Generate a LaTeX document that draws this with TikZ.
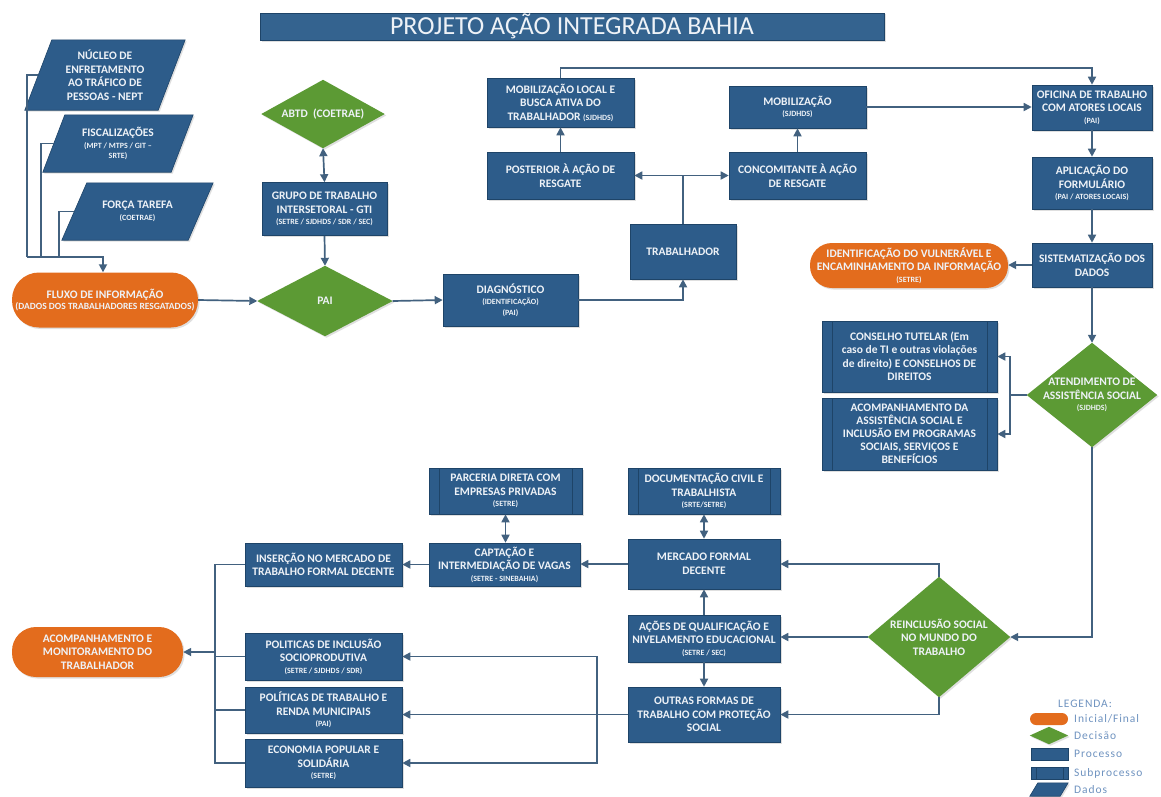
\documentclass[tikz,border=0pt]{standalone}
\usepackage{fontspec}
\setmainfont{Carlito}
\newfontfamily\legfont[LetterSpace=8]{Carlito}
\usetikzlibrary{arrows.meta,calc,shadows}
\pgfdeclarelayer{back}
\pgfdeclarelayer{bg}
\pgfsetlayers{back,bg,main}
\definecolor{procblue}{HTML}{2D5C8A}
\definecolor{procedge}{HTML}{1E4468}
\definecolor{titleblue}{HTML}{34638F}
\definecolor{orng}{HTML}{E36C1D}
\definecolor{grn}{HTML}{5C9A34}
\definecolor{lnc}{HTML}{42617F}
\definecolor{txtw}{HTML}{EEF2F7}
\definecolor{legc}{HTML}{6F93C0}
\newcommand\smtxt[1]{{\fontsize{8}{9}\selectfont #1}}
\newcommand\dia[1]{\begin{pgfonlayer}{bg}\fill[grn,drop shadow={shadow xshift=1.5pt,shadow yshift=-1.5pt,opacity=0.25}] (#1.north) -- (#1.east) -- (#1.south) -- (#1.west) -- cycle;\end{pgfonlayer}}
\newcommand\para[2]{\begin{pgfonlayer}{bg}\filldraw[fill=procblue,draw=procedge,line width=0.6pt,drop shadow={shadow xshift=1.5pt,shadow yshift=-1.5pt,opacity=0.25}] (#1.south west) -- ([xshift=#2pt]#1.north west) -- (#1.north east) -- ([xshift=-#2pt]#1.south east) -- cycle;\end{pgfonlayer}}
\tikzset{
  sz/.style 2 args={minimum width=#1pt, minimum height=#2pt},
  base/.style={align=center, text=txtw, font=\bfseries\fontsize{11.5}{13.5}\selectfont, inner sep=1pt},
  ghost/.style={base, inner sep=0pt},
  proc/.style={base, fill=procblue, draw=procedge, line width=0.6pt,
    drop shadow={shadow xshift=1.5pt,shadow yshift=-1.5pt,opacity=0.25}},
  subproc/.style={proc, path picture={\draw[procedge,line width=0.9pt]
      ([xshift=10pt]path picture bounding box.north west) -- ([xshift=10pt]path picture bounding box.south west)
      ([xshift=-10pt]path picture bounding box.north east) -- ([xshift=-10pt]path picture bounding box.south east);}},
  term/.style={base, fill=orng, rounded corners=#1pt,
    drop shadow={shadow xshift=1.5pt,shadow yshift=-1.5pt,opacity=0.25}},
  conn/.style={draw=lnc, line width=1.7pt},
  arr/.style={conn, -{Triangle[length=8pt,width=8pt]}},
  darr/.style={conn, {Triangle[length=8pt,width=8pt]}-{Triangle[length=8pt,width=8pt]}},
  leg/.style={text=legc, font=\legfont\fontsize{11.5}{12}\selectfont, inner sep=0pt}
}
\begin{document}
\begin{tikzpicture}[x=1pt,y=-1pt]
\useasboundingbox (0,0) rectangle (1161,796);
\begin{pgfonlayer}{back}\fill[white] (0,0) rectangle (1161,796);\end{pgfonlayer}

% title
\node[proc, sz={624}{27}, fill=titleblue, font=\fontsize{26}{28}\selectfont] (title) at (572,26.5) {PROJETO AÇÃO INTEGRADA BAHIA};

% data
\node[ghost, sz={160}{70}] (nept) at (105,75) {NÚCLEO DE\\ENFRETAMENTO\\AO TRÁFICO DE\\PESSOAS - NEPT};
\para{nept}{27}
\node[ghost, sz={150}{57}] (fisc) at (118,143.5) {FISCALIZAÇÕES\\[-2pt]\smtxt{(MPT / MTPS / GIT –}\\[-3pt]\smtxt{SRTE)}};
\para{fisc}{22}
\node[ghost, sz={151}{57}] (forca) at (137.5,211.5) {FORÇA TAREFA\\[-2pt]\smtxt{(COETRAE)}};
\para{forca}{25}

% decisions
\node[ghost, sz={123}{68}] (abtd) at (323,114) {ABTD\ \ (COETRAE)};
\dia{abtd}
\node[ghost, sz={135}{70}] (pai) at (325,301) {PAI};
\dia{pai}
\node[ghost, sz={130}{104}] (atend) at (1092,395) {ATENDIMENTO DE\\ASSISTÊNCIA SOCIAL\\[-2pt]\smtxt{(SJDHDS)}};
\dia{atend}
\node[ghost, sz={142}{120}] (reinc) at (939,637) {REINCLUSÃO SOCIAL\\NO MUNDO DO\\TRABALHO};
\dia{reinc}

% terminators
\node[term=27, sz={186}{55}] (fluxo) at (105,300) {FLUXO DE INFORMAÇÃO\\[-2pt]{\fontsize{9.5}{10}\selectfont (DADOS DOS TRABALHADORES RESGATADOS)}};
\node[term=22, sz={198}{45}] (ident) at (909,265.5) {IDENTIFICAÇÃO DO VULNERÁVEL E\\ENCAMINHAMENTO DA INFORMAÇÃO\\[-2pt]\smtxt{(SETRE)}};
\node[term=24, sz={171}{50}] (acmon) at (97.5,652) {ACOMPANHAMENTO E\\MONITORAMENTO DO\\TRABALHADOR};

% processes
\node[proc, sz={125}{53}] (gti) at (324.5,209) {GRUPO DE TRABALHO\\INTERSETORAL - GTI\\[-2pt]\smtxt{(SETRE / SJDHDS / SDR / SEC)}};
\node[proc, sz={135}{52}] (diag) at (510.5,300) {DIAGNÓSTICO\\[-2pt]\smtxt{(IDENTIFICAÇÃO)}\\[-3pt]\smtxt{(PAI)}};
\node[proc, sz={106}{55}] (trab) at (683,251.5) {TRABALHADOR};
\node[proc, sz={147}{47}] (post) at (560.5,175.5) {POSTERIOR À AÇÃO DE\\RESGATE};
\node[proc, sz={147}{49}] (mobloc) at (560.5,102.5) {MOBILIZAÇÃO LOCAL E\\BUSCA ATIVA DO\\TRABALHADOR \smtxt{(SJDHDS)}};
\node[proc, sz={137}{47}] (conc) at (797.5,175.5) {CONCOMITANTE À AÇÃO\\DE RESGATE};
\node[proc, sz={137}{42}] (mob) at (797.5,107) {MOBILIZAÇÃO\\[-2pt]\smtxt{(SJDHDS)}};
\node[proc, sz={120}{45}] (ofic) at (1092,107.5) {OFICINA DE TRABALHO\\COM ATORES LOCAIS\\[-2pt]\smtxt{(PAI)}};
\node[proc, sz={120}{52}] (aplic) at (1092,183) {APLICAÇÃO DO\\FORMULÁRIO\\[-2pt]\smtxt{(PAI / ATORES LOCAIS)}};
\node[proc, sz={120}{44}] (sist) at (1092,265) {SISTEMATIZAÇÃO DOS\\DADOS};
\node[proc, sz={152}{50}] (merc) at (704,564) {MERCADO FORMAL\\DECENTE};
\node[proc, sz={152}{47}] (acoes) at (704,638.5) {AÇÕES DE QUALIFICAÇÃO E\\NIVELAMENTO EDUCACIONAL\\[-2pt]\smtxt{(SETRE / SEC)}};
\node[proc, sz={152}{55}] (outras) at (704,714.5) {OUTRAS FORMAS DE\\TRABALHO COM PROTEÇÃO\\SOCIAL};
\node[proc, sz={151}{43}] (capt) at (504.5,564.5) {CAPTAÇÃO E\\INTERMEDIAÇÃO DE VAGAS\\[-2pt]\smtxt{(SETRE - SINEBAHIA)}};
\node[proc, sz={157}{43}] (ins) at (323.5,564.5) {INSERÇÃO NO MERCADO DE\\TRABALHO FORMAL DECENTE};
\node[proc, sz={157}{47}] (polinc) at (323.5,656.5) {POLITICAS DE INCLUSÃO\\SOCIOPRODUTIVA\\[-2pt]\smtxt{(SETRE / SJDHDS / SDR)}};
\node[proc, sz={157}{46}] (poltrab) at (323.5,710) {POLÍTICAS DE TRABALHO E\\RENDA MUNICIPAIS\\[-2pt]\smtxt{(PAI)}};
\node[proc, sz={157}{48}] (econ) at (323.5,763) {ECONOMIA POPULAR E\\SOLIDÁRIA\\[-2pt]\smtxt{(SETRE)}};

% subprocesses
\node[subproc, sz={175}{71}] (cons) at (909.5,356.5) {CONSELHO TUTELAR (Em\\caso de TI e outras violações\\de direito) E CONSELHOS DE\\DIREITOS};
\node[subproc, sz={175}{72}, font=\bfseries\fontsize{11.5}{13}\selectfont] (acomp) at (909.5,434) {ACOMPANHAMENTO DA\\ASSISTÊNCIA SOCIAL E\\INCLUSÃO EM PROGRAMAS\\SOCIAIS, SERVIÇOS E\\BENEFÍCIOS};
\node[subproc, sz={152}{46}] (doc) at (704,491) {DOCUMENTAÇÃO CIVIL E\\TRABALHISTA\\[-2pt]\smtxt{(SRTE/SETRE)}};
\node[subproc, sz={153}{46}] (parc) at (505.5,491) {PARCERIA DIRETA COM\\EMPRESAS PRIVADAS\\[-2pt]\smtxt{(SETRE)}};

% connectors
\coordinate (busA) at (27,257);
\coordinate (busB) at (41,257);
\coordinate (busC) at (59,257);
\draw[conn] ([xshift=13.5pt]nept.west) -| (busA);
\draw[conn] ([xshift=11pt]fisc.west) -| (busB);
\draw[conn] ([xshift=12.5pt]forca.west) -| (busC);
\draw[arr] (busA) -| ([xshift=-2pt]fluxo.north);
\draw[darr] (abtd.south) -- (gti.north);
\draw[arr] (gti.south) -- (pai.north);
\draw[arr] (fluxo.east) -- (pai.west);
\draw[arr] (pai.east) -- (diag.west);
\draw[arr] (diag.east) -| (trab.south);
\coordinate (tj) at (trab.north |- post.east);
\draw[conn] (trab.north) -- (tj);
\draw[arr] (tj) -- (post.east);
\draw[arr] (tj) -- (conc.west);
\draw[arr] (post.north) -- (mobloc.south);
\draw[arr] (mobloc.north) -- ++(0,-10) -| (ofic.north);
\draw[arr] (conc.north) -- (mob.south);
\draw[arr] (mob.east) -- (mob.east -| ofic.west);
\draw[arr] (ofic.south) -- (aplic.north);
\draw[arr] (aplic.south) -- (sist.north);
\draw[arr] (sist.west) -- (sist.west -| ident.east);
\draw[arr] (sist.south) -- (atend.north);
\coordinate (aj) at ([xshift=-17pt]atend.west);
\draw[conn] (atend.west) -- (aj);
\draw[arr] (aj) |- (cons.east);
\draw[arr] (aj) |- (acomp.east);
\draw[arr] (atend.south) |- (reinc.east);
\draw[arr] (reinc.north) |- (merc.east);
\draw[arr] (reinc.west) -- (reinc.west -| acoes.east);
\draw[arr] (reinc.south) |- (outras.east);
\draw[darr] (doc.south) -- (merc.north);
\draw[darr] (parc.south) -- (parc.south |- capt.north);
\draw[arr] (acoes.north) -- (merc.south);
\draw[arr] (acoes.south) -- (outras.north);
\draw[arr] (merc.west) -- (merc.west -| capt.east);
\draw[arr] (capt.west) -- (ins.east);
\coordinate (oj) at ([xshift=-31pt]outras.west);
\draw[arr] (outras.west) -- (outras.west -| poltrab.east);
\draw[arr] (oj) |- (polinc.east);
\draw[arr] (oj) |- (econ.east);
\coordinate (lj) at (215,652);
\draw[conn] (ins.west) -- (ins.west -| lj) |- (econ.west);
\draw[conn] (polinc.west) -- (polinc.west -| lj);
\draw[conn] (poltrab.west) -- (poltrab.west -| lj);
\draw[arr] (lj) -- (acmon.east);

% legend
\node[leg] (lgt) at (1085,704) {LEGENDA:};
\node[fill=orng, rounded corners=6pt, sz={38}{12}, inner sep=0pt] (lg1) at (1049,719) {};
\node[ghost, sz={38}{17}] (lg2) at (1049,735.5) {};
\dia{lg2}
\node[fill=procblue, draw=procedge, line width=0.5pt, sz={37}{12}, inner sep=0pt] (lg3) at (1049.5,754) {};
\node[fill=procblue, draw=procedge, line width=0.5pt, sz={37}{12}, inner sep=0pt,
  path picture={\draw[procedge,line width=0.7pt]
      ([xshift=5pt]path picture bounding box.north west) -- ([xshift=5pt]path picture bounding box.south west)
      ([xshift=-5pt]path picture bounding box.north east) -- ([xshift=-5pt]path picture bounding box.south east);}] (lg4) at (1049.5,773) {};
\node[ghost, sz={38}{13}] (lg5) at (1049,789.5) {};
\para{lg5}{8}
\node[leg, anchor=west] (lt1) at (1074,719) {Inicial/Final};
\node[leg, anchor=west] (lt2) at (1074,736) {Decisão};
\node[leg, anchor=west] (lt3) at (1074,754) {Processo};
\node[leg, anchor=west] (lt4) at (1074,773) {Subprocesso};
\node[leg, anchor=west] (lt5) at (1074,790) {Dados};
\end{tikzpicture}
\end{document}
